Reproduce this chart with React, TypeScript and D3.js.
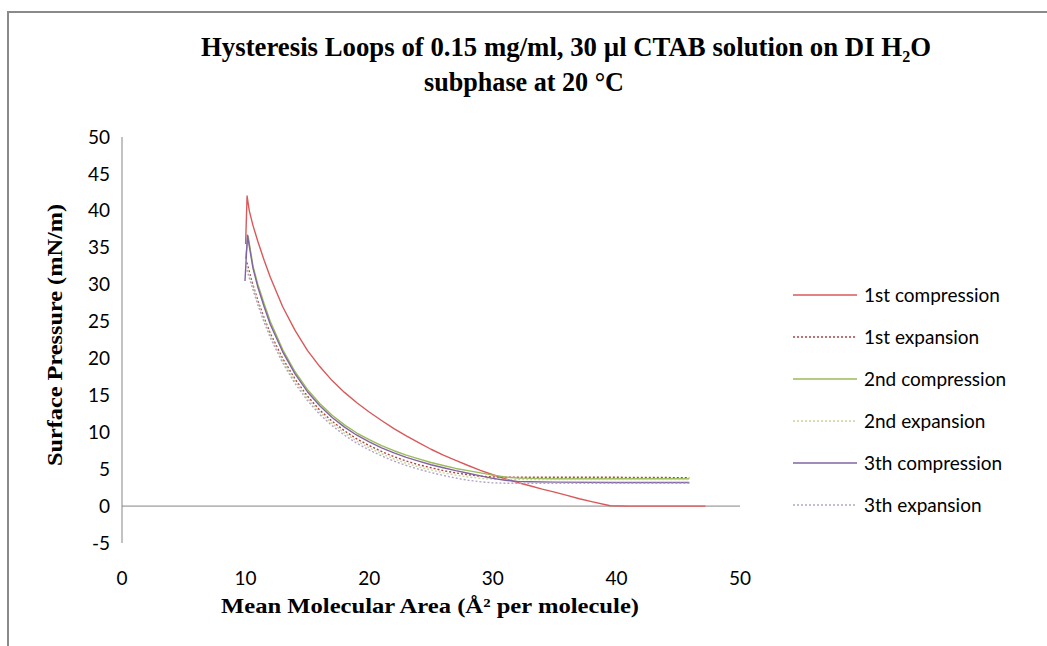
import React from "react";
import * as d3 from "d3";

// Series values (area in Å², pressure in mN/m)
const comp1Area = [47.2, 44, 41, 39.5, 38, 37, 36, 35, 34, 33, 32, 31, 30, 29, 28, 27, 26, 25, 24, 23, 22, 21, 20, 19, 18, 17, 16, 15, 14, 13, 12, 11.5, 11, 10.6, 10.3, 10.12, 10.0];
const comp1Pres = [0, 0, 0, 0.05, 0.6, 1.0, 1.45, 1.9, 2.3, 2.75, 3.2, 3.7, 4.25, 4.85, 5.5, 6.2, 6.9, 7.7, 8.6, 9.5, 10.5, 11.6, 12.75, 14.0, 15.4, 17.0, 18.9, 21.1, 23.8, 27.0, 31.0, 33.3, 35.8, 38.0, 40.0, 42.0, 35.5];

const compArea = [45.9, 40, 35, 33, 32, 31, 30, 29, 28, 27, 26, 25, 24, 23, 22, 21, 20, 19, 18, 17, 16, 15, 14, 13, 12, 11.5, 11, 10.6, 10.2, 10.0];
const comp2Pres = [3.7, 3.7, 3.7, 3.75, 3.8, 3.95, 4.2, 4.5, 4.8, 5.1, 5.5, 5.9, 6.4, 6.9, 7.5, 8.2, 9.0, 9.9, 11.0, 12.3, 13.9, 15.8, 18.2, 21.2, 25.0, 27.4, 30.0, 32.5, 36.6, 33.5];
const comp3Pres = [3.2, 3.2, 3.25, 3.3, 3.35, 3.5, 3.75, 4.1, 4.45, 4.8, 5.2, 5.6, 6.1, 6.6, 7.2, 7.9, 8.7, 9.6, 10.7, 12.0, 13.6, 15.5, 17.9, 20.9, 24.6, 27.0, 29.6, 32.2, 36.7, 30.5];

const expArea = [10.1, 10.5, 11, 11.5, 12, 13, 14, 15, 16, 17, 18, 19, 20, 21, 22, 23, 24, 25, 26, 27, 28, 29, 30, 31, 32, 35, 40, 45.9];
const exp1Pres = [33.0, 30.5, 27.8, 25.5, 23.4, 20.0, 17.2, 14.9, 13.0, 11.5, 10.2, 9.1, 8.2, 7.4, 6.7, 6.1, 5.6, 5.2, 4.8, 4.5, 4.25, 4.05, 3.95, 3.9, 3.9, 3.9, 3.9, 3.85];
const exp2Pres = [32.5, 30.2, 27.5, 25.2, 23.1, 19.7, 16.9, 14.6, 12.7, 11.2, 9.9, 8.8, 7.9, 7.1, 6.4, 5.8, 5.3, 4.9, 4.5, 4.2, 3.95, 3.75, 3.65, 3.6, 3.6, 3.6, 3.6, 3.6];
const exp3Pres = [32.0, 29.8, 27.2, 24.9, 22.8, 19.4, 16.6, 14.3, 12.4, 10.9, 9.6, 8.5, 7.6, 6.8, 6.1, 5.5, 5.0, 4.55, 4.15, 3.8, 3.5, 3.3, 3.15, 3.1, 3.1, 3.1, 3.1, 3.1];

const seriesNames = ["1st compression", "1st expansion", "2nd compression", "2nd expansion", "3th compression", "3th expansion"];
const seriesColors = ["#d9595a", "#b0433f", "#9bbb59", "#c3d69b", "#8064a2", "#b3a2c7"];
const seriesDashed = [false, true, false, true, false, true];

const xTicks = [0, 10, 20, 30, 40, 50];
const yTicks = [-5, 0, 5, 10, 15, 20, 25, 30, 35, 40, 45, 50];

// the 3rd compression ends a little further left than the 2nd
const comp3Area = compArea.map((v, i) => (i === compArea.length - 2 ? 10.15 : i === compArea.length - 1 ? 9.95 : v));

const series = [
  [comp1Area, comp1Pres],
  [expArea, exp1Pres],
  [compArea, comp2Pres],
  [expArea, exp2Pres],
  [comp3Area, comp3Pres],
  [expArea, exp3Pres],
].map(([xs, ys], i) => ({
  name: seriesNames[i],
  color: seriesColors[i],
  dashed: seriesDashed[i],
  points: xs.map((x, j) => [x, ys[j]] as [number, number]),
}));

const W = 1047;
const H = 646;

export default function App() {
  const x = d3.scaleLinear().domain([0, 50]).range([122, 740]);
  const y = d3.scaleLinear().domain([-5, 50]).range([543, 137]);

  const line = d3
    .line<[number, number]>()
    .x((d) => x(d[0]))
    .y((d) => y(d[1]));

  const serif = "'Liberation Serif', 'Times New Roman', serif";
  const sans = "Lato, 'Open Sans', sans-serif";

  return (
    <div style={{ position: "absolute", left: 0, top: 0 }}>
      <svg width={W} height={H} style={{ display: "block" }}>
        <rect x={0} y={0} width={W} height={H} fill="#fff" />
        {/* chart frame */}
        <rect x={8} y={12} width={W + 50} height={H + 50} fill="#fff" stroke="#8a8a8a" strokeWidth={2} />

        {/* title */}
        <text x={566} y={56} textAnchor="middle" fontFamily={serif} fontWeight="bold" fontSize={28}
          textLength={730} lengthAdjust="spacingAndGlyphs" fill="#000">
          Hysteresis Loops of 0.15 mg/ml, 30 µl CTAB  solution on DI H₂O
        </text>
        <text x={524} y={91} textAnchor="middle" fontFamily={serif} fontWeight="bold" fontSize={28}
          textLength={200} lengthAdjust="spacingAndGlyphs" fill="#000">
          subphase at 20 °C
        </text>

        {/* axes */}
        <line x1={x(0)} x2={x(0)} y1={y(50)} y2={y(-5)} stroke="#868686" strokeWidth={1} />
        <line x1={x(0)} x2={x(50)} y1={y(0)} y2={y(0)} stroke="#868686" strokeWidth={1} />

        {yTicks.map((t) => (
          <text key={"y" + t} x={110} y={y(t)} dy="0.35em" textAnchor="end" fontFamily={sans} fontSize={19} fill="#000">
            {t}
          </text>
        ))}
        {xTicks.map((t) => (
          <text key={"x" + t} x={x(t)} y={585} textAnchor="middle" fontFamily={sans} fontSize={19} fill="#000">
            {t}
          </text>
        ))}

        {/* axis titles */}
        <text x={430} y={613} textAnchor="middle" fontFamily={serif} fontWeight="bold" fontSize={22}
          textLength={418} lengthAdjust="spacingAndGlyphs" fill="#000">
          Mean Molecular Area (Å² per molecule)
        </text>
        <text transform={`translate(62,${335}) rotate(-90)`} textAnchor="middle" fontFamily={serif}
          fontWeight="bold" fontSize={22} textLength={262} lengthAdjust="spacingAndGlyphs" fill="#000">
          Surface Pressure (mN/m)
        </text>

        {/* series */}
        {series.map((s) => (
          <path key={s.name} d={line(s.points) || ""} fill="none" stroke={s.color} strokeWidth={1.4}
            strokeLinejoin="round" strokeDasharray={s.dashed ? "2,2" : undefined} />
        ))}

        {/* legend */}
        {series.map((s, i) => {
          const ly = 295 + i * 42;
          return (
            <g key={"lg" + s.name}>
              <line x1={793} x2={857} y1={ly} y2={ly} stroke={s.color} strokeWidth={1.6}
                strokeDasharray={s.dashed ? "2,2" : undefined} />
              <text x={864} y={ly} dy="0.35em" fontFamily={sans} fontSize={19} fill="#000">
                {s.name}
              </text>
            </g>
          );
        })}
      </svg>
    </div>
  );
}
